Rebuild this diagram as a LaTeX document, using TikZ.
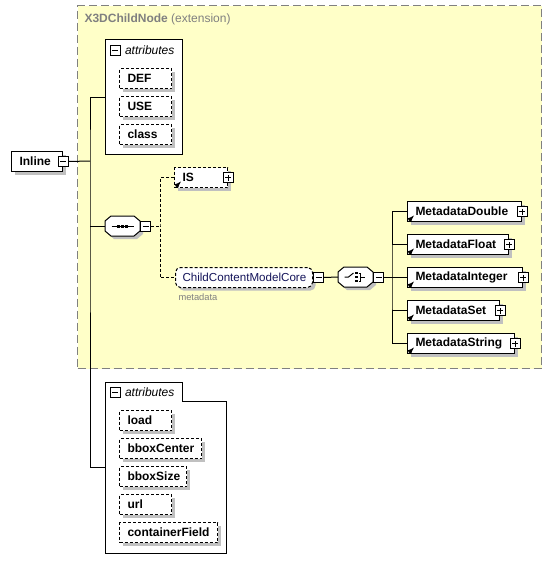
\documentclass[tikz,border=0pt]{standalone}
\usepackage{fontspec}
\setmainfont{Liberation Sans}
\usepackage{tikz}
\usetikzlibrary{positioning,calc,shadows}
\definecolor{myyellow}{RGB}{255,255,200}
\definecolor{mygray}{RGB}{128,128,128}
\definecolor{myshade}{RGB}{192,192,192}
\definecolor{mynavy}{RGB}{20,20,90}
\newlength\px
\setlength\px{0.75pt}
\newcommand\boxfont{\fontsize{9}{11}\selectfont}
\tikzstyle{shadowed}=[general shadow={fill=myshade,shadow xshift=3\px,shadow yshift=-3\px}]
\tikzstyle{box}=[draw,fill=white,anchor=north west,minimum height=20\px,inner xsep=8\px,inner ysep=0pt,shadowed]
\tikzstyle{attr}=[box,dash pattern=on 3\px off 2\px,font=\boxfont\bfseries]
\tikzstyle{elem}=[box,font=\boxfont\bfseries]
\tikzstyle{tog}=[draw,fill=white,solid,minimum size=10\px,inner sep=0pt]
\tikzstyle{minus}=[tog,path picture={\draw ([xshift=2\px]path picture bounding box.west) -- ([xshift=-2\px]path picture bounding box.east);}]
\tikzstyle{plus}=[tog,path picture={\draw ([xshift=2\px]path picture bounding box.west) -- ([xshift=-2\px]path picture bounding box.east);
  \draw ([yshift=2\px]path picture bounding box.south) -- ([yshift=-2\px]path picture bounding box.north);}]
\tikzstyle{octa}=[minimum width=35\px,minimum height=20\px,inner sep=0pt,outer sep=0pt,anchor=west]
\tikzstyle{header}=[inner sep=0pt,font=\boxfont\itshape]

\begin{document}
\begin{tikzpicture}[x=1\px,y=-1\px,line width=1\px]
\tikzstyle{dashline}=[dash pattern=on 3\px off 2\px]
\useasboundingbox (0,0) rectangle (552,572);
% extension area
\node (ext) [draw=mygray,fill=myyellow,dash pattern=on 8\px off 4\px,anchor=north west,minimum width=464\px,minimum height=363\px] at (77,5) {};
\node (title) [anchor=west,text=mygray,font=\boxfont,inner sep=0pt] at (84,19) {\textbf{X3DChildNode} (extension)};

% attributes of the base
\node (attA) [draw,fill=white,anchor=north west,minimum width=77\px,minimum height=115\px] at (105,39) {};
\node (attA-t) [minus] at (115,50) {};
\node (attA-l) [header,right=4\px of attA-t] {attributes};
\node (DEF) [attr,text width=36\px] at (119,68) {DEF};
\node (USE) [attr,text width=36\px,below right=7\px and 0pt of DEF.south west] {USE};
\node (class) [attr,text width=36\px,below right=7\px and 0pt of USE.south west] {class};

% root
\node (Inline) [elem,text width=35\px] at (11,151) {Inline};
\node (Inline-t) [minus] at (Inline.east) {};

% sequence and choice
\node (seq) [octa] at (105,226) {};
\node (choice) [octa] at (338,277) {};
\foreach \o in {seq,choice}
  \draw[fill=white,shadowed] ([xshift=6\px]\o.north west) -- ([xshift=-6\px]\o.north east)
    -- ([yshift=-5\px]\o.north east) -- ([yshift=5\px]\o.south east)
    -- ([xshift=-6\px]\o.south east) -- ([xshift=6\px]\o.south west)
    -- ([yshift=5\px]\o.south west) -- ([yshift=-5\px]\o.north west) -- cycle;
\node (seq-t) [minus,anchor=west] at (seq.east) {};
\node (choice-t) [minus,anchor=west] at (choice.east) {};
\draw ([xshift=-11\px]seq.center) -- ([xshift=11\px]seq.center);
\foreach \d in {-4,0,4}
  \fill ([xshift=\d\px]seq.center) +(-1.5,-1.5) rectangle +(1.5,1.5);
\draw ([xshift=-11\px]choice.center) -- ([xshift=-7\px]choice.center) -- ([xshift=-2\px,yshift=4\px]choice.center);
\foreach \d in {-4,0,4}
  \fill ([xshift=1\px,yshift=\d\px]choice.center) +(-1.2,-1.2) rectangle +(1.2,1.2);
\draw ([xshift=3\px,yshift=4\px]choice.center) -| ([xshift=5\px,yshift=-4\px]choice.center) -- ([xshift=3\px,yshift=-4\px]choice.center);
\draw ([xshift=5\px]choice.center) -- ([xshift=9\px]choice.center);

\node (IS) [attr,text width=37\px] at (174,167) {IS};
\node (IS-t) [plus] at (IS.east) {};

\node (core) [box,rounded corners=5\px,dashline,text width=123\px,inner xsep=7\px,font=\fontsize{8.7}{11}\selectfont,text=mynavy] at (175,267) {ChildContentModelCore};
\node (core-t) [minus,anchor=west] at (core.east) {};
\node (meta) [anchor=north west,inner sep=0pt,text=mygray,font=\fontsize{7}{8}\selectfont] at (178,293) {metadata};

% choice members
\node (md1) [elem,text width=98\px] at (407,201) {MetadataDouble};
\node (md2) [elem,text width=85\px,below right=12\px and 0pt of md1.south west] {MetadataFloat};
\node (md3) [elem,text width=99\px,below right=12\px and 0pt of md2.south west] {MetadataInteger};
\node (md4) [elem,text width=76\px,below right=12\px and 0pt of md3.south west] {MetadataSet};
\node (md5) [elem,text width=91\px,below right=12\px and 0pt of md4.south west] {MetadataString};
\foreach \n in {1,...,5}
  \node (md\n-t) [plus] at (md\n.east) {};
\foreach \n in {IS,md1,md2,md3,md4,md5}
  \draw[-latex,line width=1\px] ([xshift=2\px,yshift=1.5\px]\n.south west) -- ++(5\px,5\px);

% attributes of Inline
\node (attB) [anchor=north west,inner sep=0pt,outer sep=0pt,minimum width=121\px,minimum height=171\px] at (105,382) {};
\draw[fill=white] (attB.north west) -- ++(77,0) |- ([yshift=-19\px]attB.north east) -- (attB.south east) -- (attB.south west) -- cycle;
\node (attB-t) [minus] at (115,392) {};
\node (attB-l) [header,right=4\px of attB-t] {attributes};
\node (load) [attr,text width=36\px] at (119,410) {load};
\node (bboxCenter) [attr,text width=66\px,below right=7\px and 0pt of load.south west] {bboxCenter};
\node (bboxSize) [attr,text width=51\px,below right=7\px and 0pt of bboxCenter.south west] {bboxSize};
\node (url) [attr,text width=36\px,below right=7\px and 0pt of bboxSize.south west] {url};
\node (containerField) [attr,text width=82\px,below right=7\px and 0pt of url.south west] {containerField};

% connectors
\coordinate (trunk) at (90,161);
\coordinate (split) at (160,226);
\coordinate (fan) at (392,277);
\draw (Inline-t.east) -- (trunk);
\draw (attA.west) -| (trunk) |- (attB.west);
\draw (trunk |- seq.west) -- (seq.west);
\draw[dashline] (seq-t.east) -- (split);
\draw[dashline] (IS.west) -| (split) |- (core.west);
\draw (core-t.east) -- (choice.west);
\draw (choice-t.east) -- (fan);
\draw (md1.west) -| (fan) |- (md5.west);
\foreach \n in {2,3,4}
  \draw (fan |- md\n.west) -- (md\n.west);
\end{tikzpicture}
\end{document}
